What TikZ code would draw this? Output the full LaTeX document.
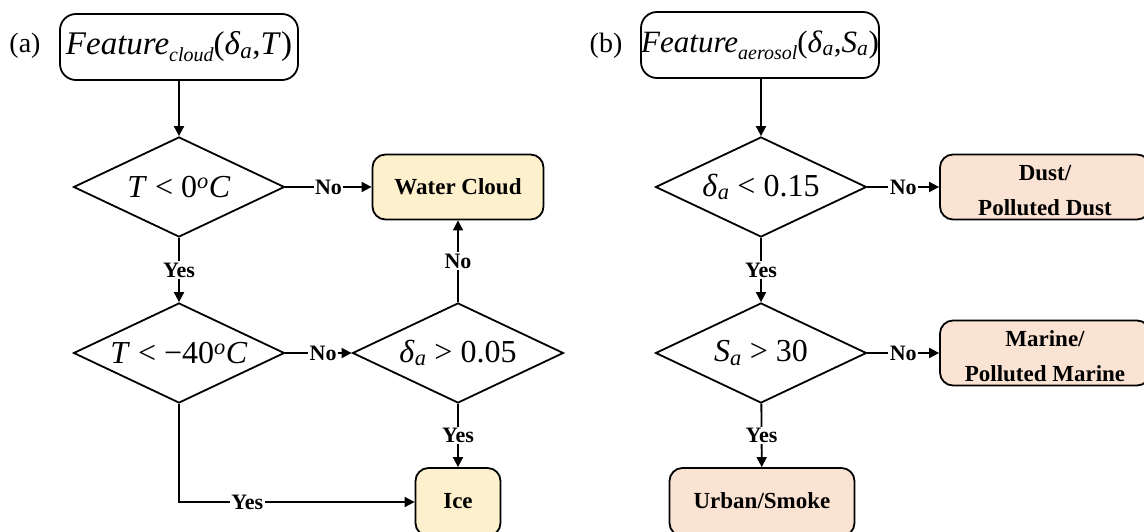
\documentclass[tikz,border=0pt]{standalone}
\usepackage{fontspec}
\setmainfont{Liberation Serif}
\usetikzlibrary{shapes.geometric,arrows.meta}
\definecolor{cloudfill}{HTML}{FDF0CC}
\definecolor{aerofill}{HTML}{FBE3D3}
\newcommand{\mysub}[1]{\raisebox{-7pt}{\fontsize{20}{20}\selectfont\itshape #1}}
\newcommand{\twolines}[2]{\raisebox{-12pt}[0pt][0pt]{\begin{tabular}{@{}c@{}}#1\\[7pt]#2\end{tabular}}}
\tikzset{
  startbox/.style={draw, line width=1.8pt, rounded corners=16pt, minimum width=238pt, minimum height=66pt, inner sep=0pt, font=\fontsize{33}{36}\selectfont},
  dec/.style={diamond, draw, line width=1.8pt, aspect=2.1, minimum width=211pt, minimum height=100pt, inner sep=0pt, font=\fontsize{32}{34}\selectfont},
  res/.style={draw, line width=1.8pt, rounded corners=13pt, minimum height=65pt, inner sep=0pt, align=center, font=\fontsize{23}{28}\selectfont\bfseries},
  lbl/.style={fill=white, inner sep=1.5pt, font=\fontsize{22}{24}\selectfont\bfseries},
  arr/.style={line width=1.8pt, -{Triangle[length=10pt,width=10pt]}},
}
\begin{document}
\begin{tikzpicture}[x=1pt,y=-1pt]
\useasboundingbox (0,0) rectangle (1144,532);
% ---------- (a)
\node[font=\fontsize{28}{30}\selectfont] (la) at (25,46) {(a)};
\node[startbox] (f1) at (179,47) {\textit{Feature}\mysub{cloud}(\textit{δ}\textsubscript{\textit{a}},\textit{T})};
\node[dec] (d1) at (179,187) {\textit{T} < 0\textsuperscript{\textit{o}}\textit{C}};
\node[res, fill=cloudfill, minimum width=171pt] (wc) at (458,187) {Water Cloud};
\node[dec] (d2) at (179,353) {\textit{T} < −40\textsuperscript{\textit{o}}\textit{C}};
\node[dec] (d3) at (458,353) {\textit{δ}\textsubscript{\textit{a}} > 0.05};
\node[res, fill=cloudfill, minimum width=85pt, minimum height=68pt] (ice) at (458,502) {\raisebox{2pt}{Ice}};
\draw[arr] (f1) -- (d1);
\draw[arr] (d1) -- node[lbl]{No} (wc);
\draw[arr] (d1) -- node[lbl]{Yes} (d2);
\draw[arr] (d2) -- node[lbl, pos=0.57]{No} (d3);
\draw[arr] (d3) -- node[lbl]{No} (wc);
\draw[arr] (d3) -- node[lbl]{Yes} (ice);
\draw[arr] (d2.south) |- node[lbl, pos=0.645]{Yes} (ice.west);
% ---------- (b)
\node[font=\fontsize{28}{30}\selectfont] (lb) at (606,46) {(b)};
\node[startbox, font=\fontsize{31}{34}\selectfont] (f2) at (760,45) {\textit{Feature}\mysub{aerosol}(\textit{δ}\textsubscript{\textit{a}},\textit{S}\textsubscript{\textit{a}})};
\node[dec] (d4) at (761,187) {\textit{δ}\textsubscript{\textit{a}} < 0.15};
\node[res, fill=aerofill, minimum width=210pt] (dust) at (1045,187) {\twolines{Dust/}{Polluted Dust}};
\node[dec] (d5) at (761,353) {\textit{S}\textsubscript{\textit{a}} > 30};
\node[res, fill=aerofill, minimum width=210pt] (mar) at (1045,353) {\twolines{Marine/}{Polluted Marine}};
\node[res, fill=aerofill, minimum width=185pt, minimum height=68pt] (urb) at (762,502) {\raisebox{2pt}{Urban/Smoke}};
\draw[arr] (f2.south -| d4.north) -- (d4);
\draw[arr] (d4) -- node[lbl]{No} (dust);
\draw[arr] (d4) -- node[lbl]{Yes} (d5);
\draw[arr] (d5) -- node[lbl]{No} (mar);
\draw[arr] (d5) -- node[lbl]{Yes} (urb);
\end{tikzpicture}
\end{document}
